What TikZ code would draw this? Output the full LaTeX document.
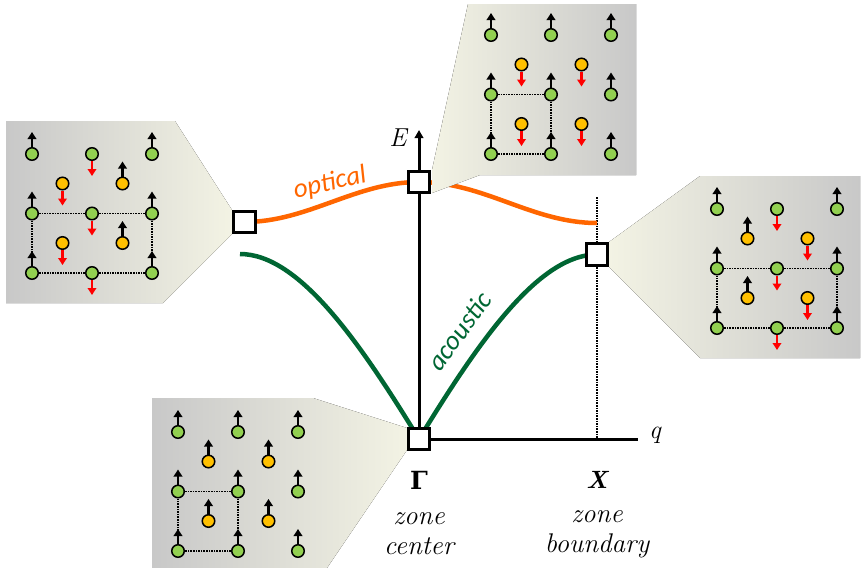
\documentclass[tikz,border=0pt]{standalone}
\usepackage{fontspec}
\newfontfamily\branchfont{Carlito}
\newfontfamily\greekfont{DejaVu Serif}
\usetikzlibrary{arrows.meta}

\definecolor{hostgreen}{RGB}{146,208,80}
\definecolor{guestyellow}{RGB}{255,192,0}
\definecolor{spinred}{RGB}{255,0,0}
\definecolor{opticorange}{RGB}{255,102,0}
\definecolor{acougreen}{RGB}{0,102,51}
\definecolor{panelgray}{RGB}{200,200,200}
\definecolor{panelcream}{RGB}{243,243,228}

\pgfdeclarelayer{curves}
\pgfsetlayers{curves,main}

% one 3x3 host lattice with 2x2 guest atoms, spins given per column (1 up, -1 down)
\newcommand\lattice[4]{%
  \begin{scope}[shift={#2}]
    \foreach \s [count=\i from 0] in {#3}
      \foreach \j in {0,1,2} {
        \node[host] (#1h\i\j) at (60*\i,59.5*\j) {};
        \draw[moment, spin=\s] (#1h\i\j) -- ++(0,-22*\s);
      }
    \foreach \s [count=\i from 0] in {#4}
      \foreach \j in {0,1} {
        \node[guest] (#1g\i\j) at (30.5+60*\i,29.5+59.5*\j) {};
        \draw[moment, spin=\s] (#1g\i\j) -- ++(0,-22*\s);
      }
  \end{scope}}

\begin{document}
\begin{tikzpicture}[
  x=1pt, y=-1pt,
  kbox/.style={draw, line width=3pt, fill=white, minimum size=21.5pt, inner sep=0pt},
  atom/.style={circle, draw, line width=1.5pt, minimum size=12.5pt, inner sep=0pt},
  host/.style={atom, fill=hostgreen},
  guest/.style={atom, fill=guestyellow},
  spin/.code={\ifnum#1>0 \pgfkeysalso{color=black}\else\pgfkeysalso{color=spinred}\fi},
  moment/.style={line width=2.4pt, -{Triangle[length=7pt,width=8.5pt]}},
  bond/.style={densely dotted, line width=1.6pt},
  axis/.style={line width=3pt},
  branch/.style={line width=4.5pt},
  axislabel/.style={font=\fontsize{26}{30}\selectfont\itshape},
  ptlabel/.style={font=\fontsize{25}{28}\selectfont\bfseries},
  zonelabel/.style={align=center, font=\fontsize{27}{30}\selectfont\itshape},
  branchlabel/.style={font=\fontsize{27}{30}\selectfont\branchfont\itshape}
]
  \useasboundingbox (0,0) rectangle (863,568);

  % callout panels
  \fill[left color=panelgray, right color=panelcream]
    (6,121) -- (175,121) -- (232,210) -- (232,234) -- (163,303) -- (6,303) -- cycle;
  \fill[left color=panelcream, right color=panelgray]
    (468,4) -- (636,4) -- (636,175) -- (480,175) -- (432,193) -- (432,170) -- cycle;
  \fill[left color=panelcream, right color=panelgray]
    (700,176) -- (860,176) -- (860,358) -- (700,358) -- (609,267) -- (609,242) -- cycle;
  \fill[left color=panelgray, right color=panelcream]
    (152,398) -- (313,398) -- (407,428) -- (407,450) -- (327,568) -- (152,568) -- cycle;

  % lattices
  \lattice{L}{(32,154)}{1,-1,1}{-1,1}
  \draw[bond] (Lh01) -- (Lh11) -- (Lh21) -- (Lh22) -- (Lh12) -- (Lh02) -- (Lh01);

  \lattice{T}{(491,35)}{1,1,1}{-1,-1}
  \draw[bond] (Th01) -- (Th11) -- (Th12) -- (Th02) -- (Th01);

  \lattice{R}{(717,209)}{1,-1,1}{1,-1}
  \draw[bond] (Rh01) -- (Rh11) -- (Rh21) -- (Rh22) -- (Rh12) -- (Rh02) -- (Rh01);

  \lattice{B}{(178,432)}{1,1,1}{1,1}
  \draw[bond] (Bh01) -- (Bh11) -- (Bh12) -- (Bh02) -- (Bh01);

  % the four marked points
  \node[kbox] (optL) at (244.5,222) {};
  \node[kbox] (optG) at (419,182) {};
  \node[kbox] (acX) at (597,254.5) {};
  \node[kbox] (acG) at (419,439) {};

  \coordinate (Etip) at (419,130);
  \coordinate (qend) at (638,439);
  \coordinate (xtop) at (597,197);
  \coordinate (xfoot) at (597,439);
  \coordinate (optend) at (597,223);
  \coordinate (acL) at (240,254);

  \begin{pgfonlayer}{curves}
    \draw[axis, -{Triangle[length=8pt,width=8.5pt]}] (acG.center) -- (Etip);
    \draw[axis] (acG) -- (qend);
    \draw[bond] (xtop) -- (xfoot);
    \draw[branch, opticorange] (optL.center) .. controls +(63.5,0) and +(-63.5,0) .. (optG.center)
      .. controls +(65,0) and +(-65,0) .. (optend);
    \draw[branch, acougreen] (acL) .. controls +(59.7,0) and +(-58,-94.5) .. (acG.center)
      .. controls +(58,-94.5) and +(-59.3,0) .. (acX.center);
  \end{pgfonlayer}

  % labels
  \node[axislabel] (Elab) at (398,138) {E};
  \node[axislabel] (qlab) at (655,435) {q};
  \node[ptlabel] (Glab) at (419,480) {\greekfont Γ};
  \node[ptlabel] (Xlab) at (597,480) {\itshape X};
  \node[zonelabel] (Gzone) at (419,534) {zone\\center};
  \node[zonelabel] (Xzone) at (597,534) {zone\\boundary};
  \node[branchlabel, opticorange, rotate=13] (optlab) at (330,183) {optical};
  \node[branchlabel, acougreen, rotate=54] (aclab) at (459,331) {acoustic};
\end{tikzpicture}
\end{document}
